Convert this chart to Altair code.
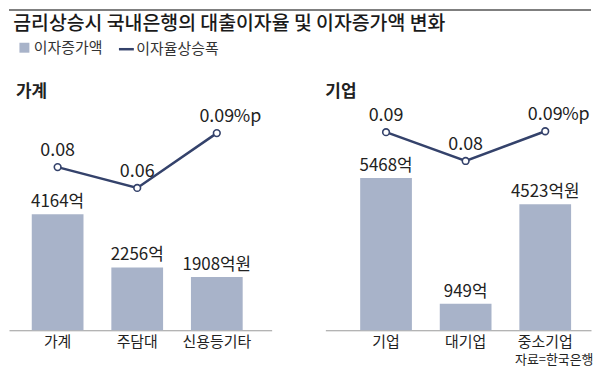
import altair as alt
import pandas as pd

FONT = "Noto Sans CJK KR"
BAR_COLOR = "#a8b3c9"
LINE_COLOR = "#34426b"
TEXT_COLOR = "#222222"

chart_title = "금리상승시 국내은행의 대출이자율 및 이자증가액 변화"
bar_series = "이자증가액"
line_series = "이자율상승폭"
source_text = "자료=한국은행"

panel_titles = ["가계", "기업"]

household_categories = ["가계", "주담대", "신용등기타"]
household_increase = [4164, 2256, 1908]
household_increase_labels = ["4164억", "2256억", "1908억원"]
household_rate = [0.0712, 0.0600, 0.0895]
household_rate_labels = ["0.08", "0.06", "0.09"]
household_rate_suffix = ["", "", "%p"]

corporate_categories = ["기업", "대기업", "중소기업"]
corporate_increase = [5468, 949, 4523]
corporate_increase_labels = ["5468억", "949억", "4523억원"]
corporate_rate = [0.0900, 0.0745, 0.0905]
corporate_rate_labels = ["0.09", "0.08", "0.09"]
corporate_rate_suffix = ["", "", "%p"]

PANEL_H = 226
BAR_DOMAIN = [0, 8070]
RATE_DOMAIN = [-0.0166, 0.1044]


def build_panel(cats, inc, inc_labels, rate, rate_labels, suffix, panel_title,
                width, pad_outer, band_align, title_dx, source=None):
    df = pd.DataFrame({
        "category": cats,
        "increase": inc,
        "increase_label": inc_labels,
        "rate": rate,
        "rate_label": rate_labels,
        "suffix": suffix,
        "bar_series": [bar_series] * len(cats),
        "line_series": [line_series] * len(cats),
    })
    axis_kwargs = dict(labelFont=FONT, labelFontSize=15, labelColor=TEXT_COLOR,
                       labelPadding=4, labelAngle=0, ticks=False,
                       domainColor="#9a9a9a", domainWidth=1, grid=False)
    if source:
        axis_kwargs.update(title=source, titleFont=FONT, titleFontSize=13,
                           titleFontWeight="normal", titleColor=TEXT_COLOR,
                           titleX=width + 2, titleY=29, titleAlign="right",
                           titleBaseline="middle", titleAnchor="end")
    else:
        axis_kwargs["title"] = None

    x = alt.X("category:N", sort=cats,
              scale=alt.Scale(domain=cats, paddingInner=0.35,
                              paddingOuter=pad_outer, align=band_align),
              axis=alt.Axis(**axis_kwargs))
    y_bar = alt.Y("increase:Q", scale=alt.Scale(domain=BAR_DOMAIN), axis=None)
    y_rate = alt.Y("rate:Q", scale=alt.Scale(domain=RATE_DOMAIN), axis=None)

    base = alt.Chart(df)
    bars = base.mark_bar().encode(
        x=x, y=y_bar,
        color=alt.Color("bar_series:N",
                        scale=alt.Scale(domain=[bar_series], range=[BAR_COLOR]),
                        legend=alt.Legend(title=None, orient="none", legendX=8,
                                          legendY=30.5, symbolType="square",
                                          symbolSize=100, symbolStrokeWidth=0,
                                          labelFont=FONT, labelFontSize=15,
                                          labelColor="#333333", labelOffset=2,
                                          padding=0)))
    bar_text = base.mark_text(font=FONT, fontSize=17, color=TEXT_COLOR,
                              baseline="middle", dy=-12).encode(
        x=x, y=y_bar, text="increase_label:N")
    line = base.mark_line(strokeWidth=2.5).encode(
        x=x, y=y_rate,
        stroke=alt.Stroke("line_series:N",
                          scale=alt.Scale(domain=[line_series], range=[LINE_COLOR]),
                          legend=alt.Legend(title=None, orient="none", legendX=109,
                                            legendY=30.5, symbolType="stroke",
                                            symbolSize=225, symbolStrokeWidth=2.5,
                                            labelFont=FONT, labelFontSize=15,
                                            labelColor="#333333", labelOffset=1,
                                            padding=0)))
    points = base.mark_circle(size=45, fill="white", stroke=LINE_COLOR,
                              strokeWidth=1.6, opacity=1).encode(x=x, y=y_rate)
    rate_text = base.mark_text(font=FONT, fontSize=18, color=TEXT_COLOR,
                               baseline="middle", dy=-16).encode(
        x=x, y=y_rate, text="rate_label:N")
    suffix_text = base.mark_text(font=FONT, fontSize=18, color=TEXT_COLOR,
                                 baseline="middle", align="left", dx=17, dy=-16).encode(
        x=x, y=y_rate, text="suffix:N")

    return alt.layer(bars, bar_text, line, points, rate_text, suffix_text).resolve_scale(
        y="independent"
    ).properties(
        width=width, height=PANEL_H,
        title=alt.TitleParams(panel_title, anchor="start", fontSize=17,
                              fontWeight="bold", font=FONT, color=TEXT_COLOR,
                              offset=4, dx=title_dx))


left = build_panel(household_categories, household_increase, household_increase_labels,
                   household_rate, household_rate_labels, household_rate_suffix,
                   panel_titles[0], 264, 0.325, 0.44, 7)
right = build_panel(corporate_categories, corporate_increase, corporate_increase_labels,
                    corporate_rate, corporate_rate_labels, corporate_rate_suffix,
                    panel_titles[1], 267, 0.34375, 0.636, 0, source=source_text)

header = alt.Chart(pd.DataFrame({"title": [chart_title]})).mark_rule(
    color="#555555", strokeWidth=1.5
).encode(
    x=alt.value(0), x2=alt.value(585), y=alt.value(0)
).properties(
    width=585, height=1,
    title=alt.TitleParams(chart_title, orient="bottom", anchor="start", fontSize=19.5,
                          fontWeight=500, font=FONT, color="#1a1a1a", offset=4, dx=5))

chart = alt.vconcat(
    header,
    alt.hconcat(left, right, spacing=54, bounds="flush"),
    spacing=95, bounds="flush"
).properties(padding=0).configure_view(stroke=None)

chart.save("out.html", embed_options={"renderer": "svg", "actions": False})
